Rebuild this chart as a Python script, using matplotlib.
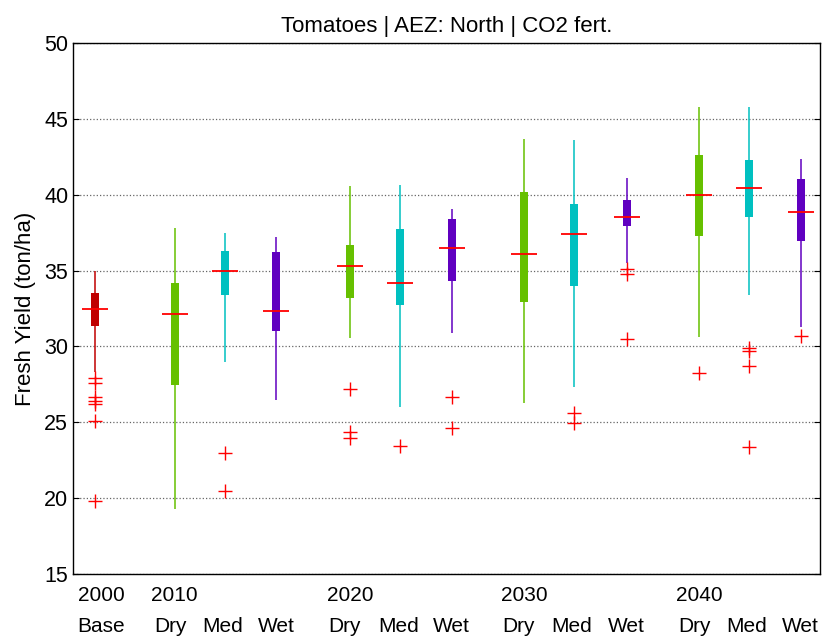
import matplotlib
matplotlib.use('Agg')
import matplotlib.pyplot as plt
import matplotlib.transforms as mtransforms

plt.rcParams['font.family'] = ['Liberation Sans', 'DejaVu Sans']

# Дані: підписи, сценарії, статистика боксів (ton/ha)
years = ['2000', '2010', '2020', '2030', '2040']
scenarios = ['Base', 'Dry', 'Med', 'Wet', 'Dry', 'Med', 'Wet',
             'Dry', 'Med', 'Wet', 'Dry', 'Med', 'Wet']
medians = [32.47, 32.14, 35.0, 32.36, 35.33, 34.18, 36.47,
           36.12, 37.39, 38.53, 40.0, 40.47, 38.84]
q1 = [31.35, 27.46, 33.4, 31.0, 33.17, 32.71, 34.31,
      32.95, 33.98, 37.96, 37.28, 38.51, 36.93]
q3 = [33.5, 34.16, 36.3, 36.2, 36.67, 37.72, 38.4,
      40.2, 39.39, 39.63, 42.6, 42.27, 41.02]
whis_lo = [28.3, 19.27, 28.95, 26.45, 30.53, 25.99, 30.89,
           26.3, 27.35, 35.48, 30.64, 33.41, 31.3]
whis_hi = [35.0, 37.8, 37.46, 37.24, 40.58, 40.66, 39.04,
           43.65, 43.6, 41.13, 45.8, 45.8, 42.38]
outliers = [
    [27.9, 27.6, 26.7, 26.4, 26.2, 25.1, 19.8],
    [],
    [23.0, 20.47],
    [],
    [27.2, 24.38, 23.94],
    [23.46],
    [26.65, 24.6],
    [],
    [25.6, 24.93],
    [35.08, 34.8, 30.51],
    [28.23],
    [29.88, 29.7, 28.71, 23.35],
    [30.71],
]

# Позиції боксів і підписів, кольори
positions = [1.9, 3.5, 4.5, 5.52, 7.0, 8.0, 9.04, 10.48, 11.48, 12.54, 13.98, 14.98, 16.02]
label_pos = [2.03, 3.42, 4.45, 5.52, 6.9, 7.98, 9.02, 10.38, 11.44, 12.52, 13.9, 14.94, 16.0]
year_pos = [2.03, 3.48, 7.0, 10.48, 13.98]
colors = {'Base': '#C00000', 'Dry': '#66C000', 'Med': '#00C0C0', 'Wet': '#6000C0'}

fig = plt.figure(figsize=(8.24, 6.41), dpi=100)
ax = fig.add_axes([0.0886, 0.1045, 0.9064, 0.8284])

ax.yaxis.grid(True, linestyle=':', color='#666666', linewidth=0.9)
ax.set_axisbelow(True)

for i, x in enumerate(positions):
    c = colors[scenarios[i]]
    ax.vlines(x, whis_lo[i], whis_hi[i], color=c, linewidth=1.1, zorder=2)
    ax.bar(x, q3[i] - q1[i], bottom=q1[i], width=0.16, color=c, zorder=3)
    ax.hlines(medians[i], x - 0.26, x + 0.26, color='red', linewidth=1.3, zorder=4)
    if outliers[i]:
        ax.plot([x] * len(outliers[i]), outliers[i], '+', color='red',
                markersize=10, markeredgewidth=1.0, zorder=4)

ax.set_xlim(1.46, 16.4)
ax.set_ylim(15, 50)
ax.set_yticks(range(15, 51, 5))
ax.set_xticks([])
ax.tick_params(axis='y', direction='in', length=4, right=True, labelsize=15.5)
for s in ax.spines.values():
    s.set_linewidth(1.0)

trans = mtransforms.blended_transform_factory(ax.transData, ax.transAxes)
for x, yr in zip(year_pos, years):
    ax.text(x, -0.04, yr, transform=trans, ha='center', va='center', fontsize=15)
for x, sc in zip(label_pos, scenarios):
    ax.text(x, -0.098, sc, transform=trans, ha='center', va='center', fontsize=15)

ax.set_ylabel('Fresh Yield (ton/ha)', fontsize=16, labelpad=6)
ax.set_title('Tomatoes | AEZ: North | CO2 fert.', fontsize=16, pad=8)

plt.savefig('out.png', dpi=100)
